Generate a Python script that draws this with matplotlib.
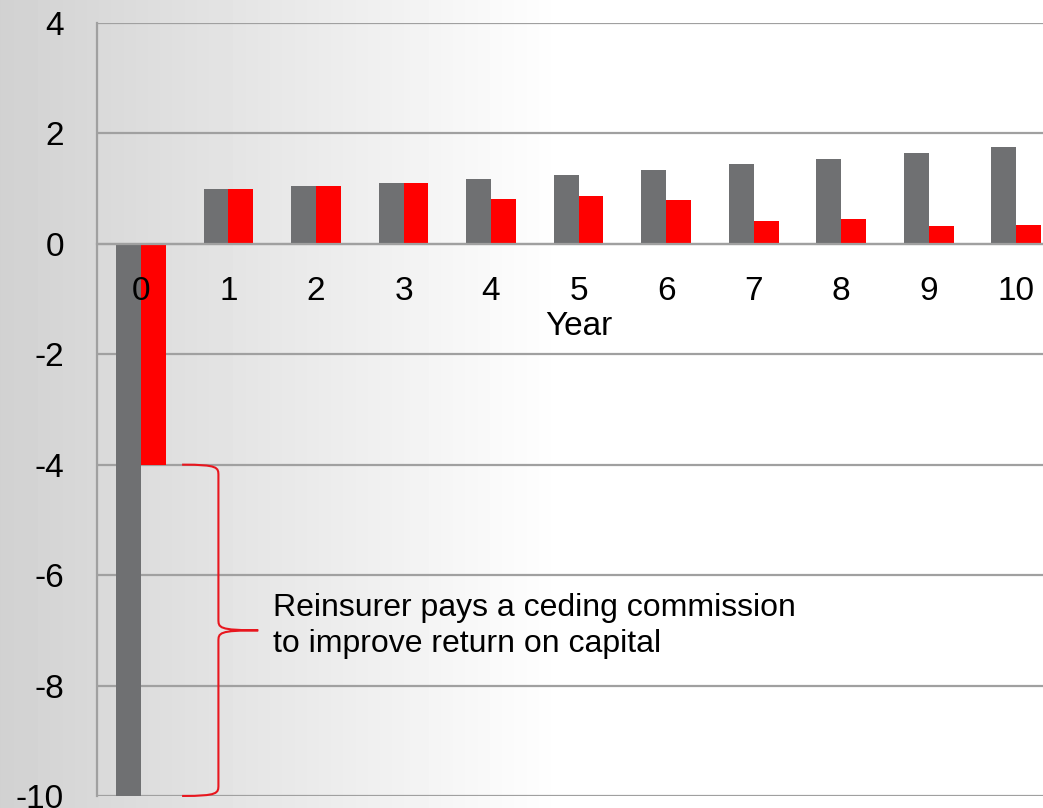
import numpy as np
import matplotlib
matplotlib.use("Agg")
import matplotlib.pyplot as plt
from matplotlib.path import Path
from matplotlib.patches import PathPatch

plt.rcParams['font.family'] = ['Liberation Sans', 'DejaVu Sans']

# data
years = [0, 1, 2, 3, 4, 5, 6, 7, 8, 9, 10]
gray_vals = [-10, 1.00, 1.05, 1.11, 1.17, 1.25, 1.34, 1.44, 1.53, 1.64, 1.76]
red_vals = [-4, 1.00, 1.05, 1.11, 0.81, 0.87, 0.80, 0.42, 0.45, 0.32, 0.34]
y_ticks = [-10, -8, -6, -4, -2, 0, 2, 4]
note = "Reinsurer pays a ceding commission\nto improve return on capital"

GRAY = "#6f7072"
RED = "#ff0000"
GRID = "#a0a0a0"

fig = plt.figure(figsize=(10.43, 8.08), dpi=100)

# background: gray on the left fading to white
bg = fig.add_axes([0, 0, 1, 1], zorder=-10)
grad = np.clip(0.82 + 0.18 * np.linspace(0, 1, 1043) / 0.54, 0, 1)
img = np.tile(grad, (10, 1))
bg.imshow(img, cmap="gray", vmin=0, vmax=1, aspect="auto", extent=[0, 1, 0, 1])
bg.axis("off")

ax = fig.add_axes([0.0932, 0.0149, 0.923, 0.9567])
ax.patch.set_alpha(0)

x = np.arange(len(years))
w = 0.285
ax.bar(x - w / 2, gray_vals, width=w, color=GRAY, zorder=1)
ax.bar(x + w / 2, red_vals, width=w, color=RED, zorder=1)

for yv in y_ticks:
    ax.axhline(yv, color=GRID, lw=1.6, zorder=0.5)

ax.set_xlim(-0.5, 10.5)
ax.set_ylim(-10, 4)
ax.set_yticks(y_ticks)
ax.set_yticklabels([str(v) for v in y_ticks])
ax.set_xticks(x)
ax.set_xticklabels([str(v) for v in years])

ax.spines['top'].set_visible(False)
ax.spines['right'].set_visible(False)
ax.spines['bottom'].set_position(('data', 0))
ax.spines['bottom'].set_color(GRID)
ax.spines['bottom'].set_linewidth(1.6)
ax.spines['left'].set_color(GRID)
ax.spines['left'].set_linewidth(1.6)

ax.tick_params(axis='x', length=0, pad=23, labelsize=24)
ax.tick_params(axis='y', length=0, pad=24, labelsize=24)
ax.set_xlabel("Year", fontsize=24, labelpad=3)

# curly brace from -4 down to -10
x0, xv, xt = 0.47, 0.885, 1.34
verts = [
    (x0, -4.0), (xv, -4.0), (xv, -4.05), (xv, -4.2),
    (xv, -6.8),
    (xv, -6.95), (xv, -7.0), (xt, -7.0),
    (xv, -7.0), (xv, -7.05), (xv, -7.2),
    (xv, -9.8),
    (xv, -9.95), (xv, -10.0), (x0, -10.0),
]
codes = [Path.MOVETO, Path.CURVE4, Path.CURVE4, Path.CURVE4,
         Path.LINETO,
         Path.CURVE4, Path.CURVE4, Path.CURVE4,
         Path.CURVE4, Path.CURVE4, Path.CURVE4,
         Path.LINETO,
         Path.CURVE4, Path.CURVE4, Path.CURVE4]
ax.add_patch(PathPatch(Path(verts, codes), fill=False, edgecolor="#e8161e",
                       lw=1.5, zorder=3, clip_on=False))

ax.text(1.51, -6.92, note, fontsize=23, va="center", ha="left",
        linespacing=1.25, color="black")

fig.savefig("out.png", dpi=100)
